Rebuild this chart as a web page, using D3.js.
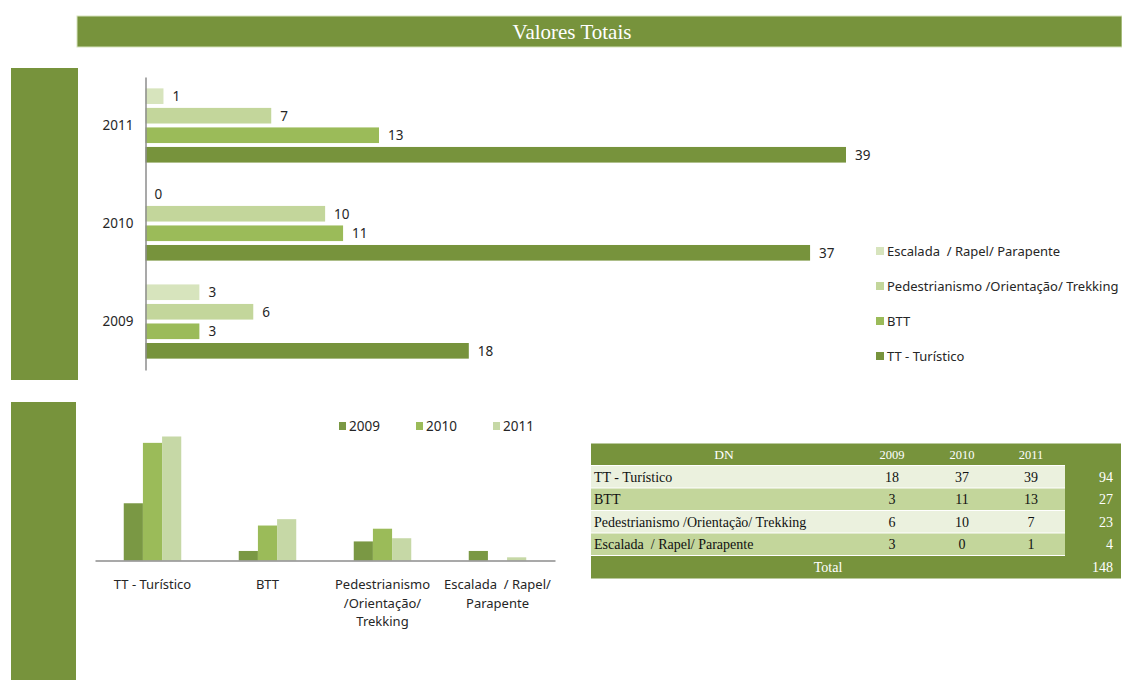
<!DOCTYPE html>
<html lang="pt">
<head>
  <meta charset="UTF-8">
  <title>Valores Totais</title>
  <script src="https://d3js.org/d3.v7.min.js"></script>
  <style>
    body {
      margin: 0;
      background: #fff;
    }
    svg text {
      font-family: "Noto Sans", sans-serif;
      fill: #262626;
      white-space: pre;
    }
    svg text.serif {
      font-family: "Liberation Serif", serif;
    }
  </style>
</head>
<body>
  <svg id="chart" width="1122" height="680"></svg>

  <script>
    // données
    const years = ["2009", "2010", "2011"];
    const categories = ["TT - Turístico", "BTT", "Pedestrianismo /Orientação/ Trekking", "Escalada  / Rapel/ Parapente"];
    const valuesTT = [18, 37, 39];
    const valuesBTT = [3, 11, 13];
    const valuesPed = [6, 10, 7];
    const valuesEsc = [3, 0, 1];
    const categoryLines = [["TT - Turístico"], ["BTT"], ["Pedestrianismo", "/Orientação/", "Trekking"], ["Escalada  / Rapel/", "Parapente"]];

    const darkGreen = "#77933c";
    const catColors = ["#77933c", "#9bbb59", "#c3d69b", "#d7e4bd"];
    const yearColors = ["#7a9844", "#9bbb59", "#c6d8a6"];

    const series = categories.map((name, i) => ({
      name: name,
      color: catColors[i],
      values: [valuesTT, valuesBTT, valuesPed, valuesEsc][i]
    }));

    const svg = d3.select("#chart");

    // bandeau du titre et blocs de gauche
    svg.append("rect").attr("x", 77).attr("y", 16).attr("width", 1045).attr("height", 31)
      .attr("fill", darkGreen).attr("stroke", "#d7e4bd").attr("stroke-width", 1);
    svg.append("text").attr("class", "serif")
      .attr("x", 572).attr("y", 32).attr("dominant-baseline", "central")
      .attr("text-anchor", "middle").style("font-size", "21px").style("fill", "#fff")
      .text("Valores Totais");

    svg.append("rect").attr("x", 11).attr("y", 68).attr("width", 67).attr("height", 312)
      .attr("fill", darkGreen);
    svg.append("rect").attr("x", 11).attr("y", 402).attr("width", 65).attr("height", 278)
      .attr("fill", darkGreen);

    // ---- graphique du haut : barres horizontales par année ----
    const yGroup = d3.scaleBand()
      .domain(years.slice().reverse())
      .range([77, 370])
      .paddingInner(0.243)
      .paddingOuter(0.116);

    const yInner = d3.scaleBand()
      .domain(categories.slice().reverse())
      .range([0, yGroup.bandwidth()])
      .paddingInner(0.2);

    const xBar = d3.scaleLinear().domain([0, 39]).range([145.5, 846]);

    const groups = svg.append("g").selectAll("g")
      .data(years)
      .enter().append("g")
      .attr("transform", d => "translate(0," + yGroup(d) + ")");

    groups.selectAll("rect")
      .data((yr, yi) => series.map(s => ({ name: s.name, color: s.color, value: s.values[yi] })))
      .enter().append("rect")
      .attr("x", xBar(0))
      .attr("y", d => yInner(d.name))
      .attr("width", d => xBar(d.value) - xBar(0))
      .attr("height", yInner.bandwidth())
      .attr("fill", d => d.color);

    groups.selectAll("text")
      .data((yr, yi) => series.map(s => ({ name: s.name, value: s.values[yi] })))
      .enter().append("text")
      .attr("x", d => xBar(d.value) + 9)
      .attr("y", d => yInner(d.name) + yInner.bandwidth() / 2)
      .attr("dominant-baseline", "central")
      .style("font-size", "13.5px")
      .text(d => d.value);

    const yAxis = svg.append("g")
      .attr("transform", "translate(145.5,0)")
      .call(d3.axisLeft(yGroup).tickSize(0).tickSizeOuter(0).tickPadding(12));
    yAxis.select(".domain").attr("stroke", "#8c8c8c").attr("stroke-width", 1.5);
    yAxis.selectAll(".tick text")
      .style("font-size", "13.5px")
      .style("font-family", "'Noto Sans', sans-serif")
      .attr("fill", "#262626");

    // légende du haut
    const legendTop = svg.append("g").selectAll("g")
      .data(series.slice().reverse())
      .enter().append("g")
      .attr("transform", (d, i) => "translate(876," + (251 + i * 35) + ")");
    legendTop.append("rect").attr("x", 0).attr("y", -4).attr("width", 8).attr("height", 8)
      .attr("fill", d => d.color);
    legendTop.append("text").attr("x", 11).attr("y", 0)
      .attr("dominant-baseline", "central")
      .style("font-size", "13px")
      .text(d => d.name);

    // ---- graphique du bas : colonnes par catégorie ----
    const xCat = d3.scaleBand()
      .domain(categories)
      .range([95, 555])
      .paddingInner(0.5)
      .paddingOuter(0.25);

    const xYear = d3.scaleBand().domain(years).range([0, xCat.bandwidth()]);

    const yCol = d3.scaleLinear().domain([0, 39]).range([560.5, 436.5]);

    const cols = svg.append("g").selectAll("g")
      .data(series)
      .enter().append("g")
      .attr("transform", d => "translate(" + xCat(d.name) + ",0)");

    cols.selectAll("rect")
      .data(s => s.values.map((v, i) => ({ year: years[i], value: v })))
      .enter().append("rect")
      .attr("x", d => xYear(d.year))
      .attr("y", d => yCol(d.value))
      .attr("width", xYear.bandwidth())
      .attr("height", d => yCol(0) - yCol(d.value))
      .attr("fill", (d, i) => yearColors[i]);

    const xAxis = svg.append("g")
      .attr("transform", "translate(0," + yCol(0) + ")")
      .call(d3.axisBottom(xCat).tickSize(0).tickSizeOuter(0).tickFormat(""));
    xAxis.select(".domain").attr("stroke", "#8c8c8c").attr("stroke-width", 1.5);

    svg.append("g").selectAll("text")
      .data(categories)
      .enter().append("text")
      .attr("x", d => xCat(d) + xCat.bandwidth() / 2)
      .attr("y", 584)
      .attr("text-anchor", "middle")
      .attr("dominant-baseline", "central")
      .style("font-size", "13px")
      .each(function(d, i) {
        d3.select(this).selectAll("tspan")
          .data(categoryLines[i])
          .enter().append("tspan")
          .attr("x", xCat(d) + xCat.bandwidth() / 2)
          .attr("dy", (l, j) => j === 0 ? 0 : 18.5)
          .text(l => l);
      });

    // légende du bas
    const legendYear = d3.scalePoint().domain(years).range([339, 493]);
    const legendBottom = svg.append("g").selectAll("g")
      .data(years)
      .enter().append("g")
      .attr("transform", d => "translate(" + legendYear(d) + ",426)");
    legendBottom.append("rect").attr("x", 0).attr("y", -4).attr("width", 7).attr("height", 8)
      .attr("fill", (d, i) => yearColors[i]);
    legendBottom.append("text").attr("x", 10).attr("y", 0)
      .attr("dominant-baseline", "central")
      .style("font-size", "13.5px")
      .text(d => d);

    // ---- tableau ----
    const colEdges = [591, 857, 927, 997, 1065, 1121];
    const rowTop = 443.5;
    const rowH = 22.5;
    const table = svg.append("g");
    const rowTotals = series.map(s => d3.sum(s.values));
    const grandTotal = d3.sum(rowTotals);

    // en-tête
    table.append("rect").attr("x", colEdges[0]).attr("y", rowTop)
      .attr("width", colEdges[5] - colEdges[0]).attr("height", rowH - 1).attr("fill", darkGreen);
    table.append("text").attr("class", "serif")
      .attr("x", (colEdges[0] + colEdges[1]) / 2).attr("y", rowTop + rowH / 2)
      .attr("text-anchor", "middle").attr("dominant-baseline", "central")
      .style("font-size", "13.5px").style("fill", "#fff").text("DN");
    table.selectAll(".yr-head")
      .data(years)
      .enter().append("text")
      .attr("class", "serif yr-head")
      .attr("x", (d, i) => (colEdges[i + 1] + colEdges[i + 2]) / 2)
      .attr("y", rowTop + rowH / 2)
      .attr("text-anchor", "middle").attr("dominant-baseline", "central")
      .style("font-size", "12.5px").style("fill", "#fff").text(d => d);

    // colonne des totaux
    table.append("rect").attr("x", colEdges[4]).attr("y", rowTop + rowH - 1)
      .attr("width", colEdges[5] - colEdges[4]).attr("height", rowH * 4 + 1).attr("fill", darkGreen);

    const rows = table.selectAll(".row")
      .data(series)
      .enter().append("g")
      .attr("class", "row")
      .attr("transform", (d, i) => "translate(0," + (rowTop + rowH * (i + 1)) + ")");

    rows.append("rect").attr("x", colEdges[0]).attr("y", 0)
      .attr("width", colEdges[4] - colEdges[0]).attr("height", rowH - 1)
      .attr("fill", (d, i) => i % 2 === 0 ? "#ebf1de" : "#c3d69b");

    rows.append("text").attr("class", "serif")
      .attr("x", colEdges[0] + 3).attr("y", rowH / 2)
      .attr("dominant-baseline", "central")
      .style("font-size", "14px").style("fill", "#111")
      .text(d => d.name);

    rows.selectAll(".val")
      .data(d => d.values)
      .enter().append("text")
      .attr("class", "serif val")
      .attr("x", (v, i) => (colEdges[i + 1] + colEdges[i + 2]) / 2)
      .attr("y", rowH / 2)
      .attr("text-anchor", "middle").attr("dominant-baseline", "central")
      .style("font-size", "14px").style("fill", "#111")
      .text(v => v);

    rows.append("text").attr("class", "serif")
      .attr("x", colEdges[5] - 8).attr("y", rowH / 2)
      .attr("text-anchor", "end").attr("dominant-baseline", "central")
      .style("font-size", "14px").style("fill", "#fff")
      .text((d, i) => rowTotals[i]);

    // ligne total
    const totalY = rowTop + rowH * 5;
    table.append("rect").attr("x", colEdges[0]).attr("y", totalY)
      .attr("width", colEdges[5] - colEdges[0]).attr("height", rowH).attr("fill", darkGreen);
    table.append("text").attr("class", "serif")
      .attr("x", (colEdges[0] + colEdges[4]) / 2).attr("y", totalY + rowH / 2)
      .attr("text-anchor", "middle").attr("dominant-baseline", "central")
      .style("font-size", "14px").style("fill", "#fff").text("Total");
    table.append("text").attr("class", "serif")
      .attr("x", colEdges[5] - 8).attr("y", totalY + rowH / 2)
      .attr("text-anchor", "end").attr("dominant-baseline", "central")
      .style("font-size", "14px").style("fill", "#fff").text(grandTotal);
  </script>
</body>
</html>
